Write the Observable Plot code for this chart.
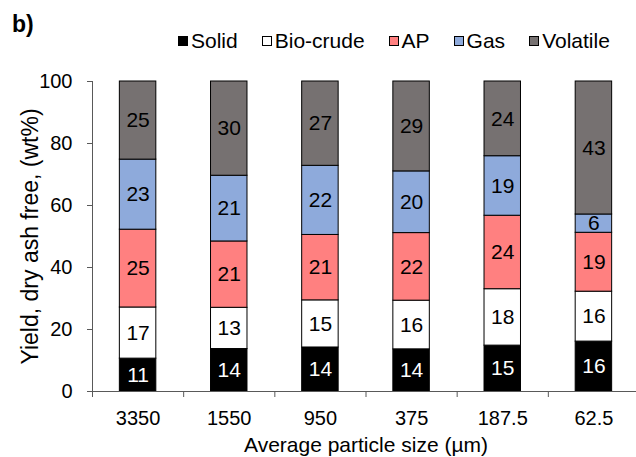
<!DOCTYPE html>
<html><head><meta charset="utf-8">
<script src="https://cdn.jsdelivr.net/npm/d3@7"></script>
<script src="https://cdn.jsdelivr.net/npm/@observablehq/plot@0.6"></script>
<style>
body{margin:0;background:#fff;font-family:"Liberation Sans",Arial,sans-serif;color:#000;}
#wrap{position:relative;width:636px;height:457px;overflow:hidden;}
#head{position:relative;height:60px;}
#tag{position:absolute;left:12px;top:13px;font-size:23px;font-weight:bold;line-height:1;}
#legend{position:absolute;left:178px;top:30px;display:flex;align-items:center;font-size:21px;line-height:1;gap:24px;}
.item{display:flex;align-items:center;}
.sw{width:10px;height:10px;box-sizing:border-box;border:1px solid #000;margin-right:3px;}
#chart svg{display:block;}
</style></head>
<body><div id="wrap"><div id="head"><div id="tag">b)</div><div id="legend"></div></div><div id="chart"></div></div>
<script>
const sizes = ["3350", "1550", "950", "375", "187.5", "62.5"];
const series = ["Solid", "Bio-crude", "AP", "Gas", "Volatile"];
const colors = ["#000000", "#ffffff", "#ff8080", "#8eaadb", "#767171"];
const solid = [10.6, 13.7, 14.2, 13.6, 14.8, 16.1];
const bioCrude = [16.5, 13.3, 15.2, 15.7, 18.2, 16.1];
const ap = [25.1, 21.4, 21.1, 21.8, 23.7, 19.0];
const gas = [22.6, 21.2, 22.3, 19.9, 19.2, 5.9];
const volatile = [25.2, 30.4, 27.2, 29.0, 24.1, 42.9];
const yTicks = [0, 20, 40, 60, 80, 100];
const xTitle = "Average particle size (µm)";
const yTitle = "Yield, dry ash free, (wt%)";

const seriesValues = [solid, bioCrude, ap, gas, volatile];
const rows = [];
sizes.forEach((s, i) => {
  let acc = 0;
  series.forEach((name, k) => {
    const v = seriesValues[k][i];
    rows.push({i, size: s, series: name, value: v, y1: acc, y2: acc + v});
    acc += v;
  });
});

// legend
const leg = document.getElementById("legend");
series.forEach((name, k) => {
  const it = document.createElement("div"); it.className = "item";
  const sw = document.createElement("span"); sw.className = "sw"; sw.style.background = colors[k];
  const tx = document.createElement("span"); tx.textContent = name;
  it.appendChild(sw); it.appendChild(tx); leg.appendChild(it);
});

const axisColor = "#595959";
const chart = Plot.plot({
  width: 636, height: 397,
  marginLeft: 92, marginRight: -3, marginTop: 21, marginBottom: 66,
  x: {domain: [0, sizes.length], axis: null},
  y: {domain: [0, 100], axis: null},
  color: {domain: series, range: colors},
  style: {fontFamily: "'Liberation Sans', Arial, sans-serif", fontSize: "20px", color: "#000", background: "#fff", overflow: "visible"},
  marks: [
    Plot.rectY(rows, {x1: d => d.i + 0.3, x2: d => d.i + 0.7, y1: "y1", y2: "y2", fill: "series", stroke: "#000", strokeWidth: 1}),
    Plot.text(rows.filter(d => d.series === "Solid"), {x: d => d.i + 0.5, y: d => (d.y1 + d.y2) / 2, text: d => String(Math.round(d.value)), fill: "#fff", fontSize: 21}),
    Plot.text(rows.filter(d => d.series !== "Solid"), {x: d => d.i + 0.5, y: d => (d.y1 + d.y2) / 2, text: d => String(Math.round(d.value)), fill: "#000", fontSize: 21}),
    Plot.ruleX([0], {stroke: axisColor}),
    Plot.ruleY([0], {stroke: axisColor}),
    Plot.axisY({ticks: yTicks, tickSize: 5, tickPadding: 15, label: null, stroke: axisColor, fill: "#000"}),
    Plot.axisX({ticks: d3.range(0, sizes.length + 1), tickSize: 6, tickFormat: () => "", label: null, stroke: axisColor}),
    Plot.axisX({ticks: sizes.map((s, i) => i + 0.5), tickSize: 0, tickPadding: 19, tickFormat: t => sizes[Math.round(t - 0.5)], label: null, fill: "#000"}),
    Plot.text([xTitle], {frameAnchor: "bottom", dy: 54, lineAnchor: "middle", fontSize: 21, fill: "#000", text: d => d}),
    Plot.text([yTitle], {frameAnchor: "left", dx: -62, rotate: -90, textAnchor: "middle", lineAnchor: "middle", fontSize: 23, fill: "#000", text: d => d})
  ]
});
document.getElementById("chart").appendChild(chart);
</script>
</body></html>
